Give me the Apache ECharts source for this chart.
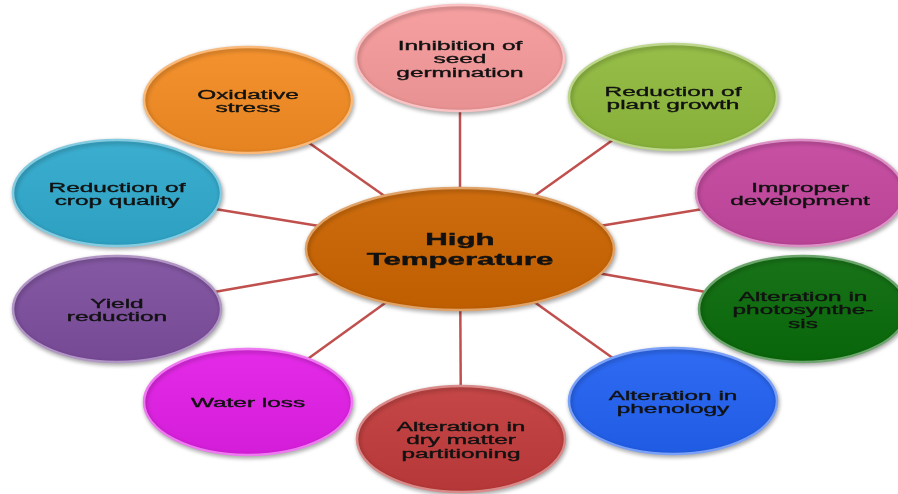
<!DOCTYPE html>
<html>
<head>
<meta charset="utf-8">
<script src="https://cdn.jsdelivr.net/npm/echarts@6/dist/echarts.min.js"></script>
<style>
html,body{margin:0;padding:0;background:#ffffff;}
#chart{width:898px;height:494px;}
</style>
</head>
<body>
<div id="chart"></div>
<script>
// ---- data ----
var centerLabel = 'High\nTemperature';
var centerColor = '#cb6400';
var centerX = 460;
var centerY = 249;

var labels = [
  'Inhibition of\nseed\ngermination',
  'Reduction of\nplant growth',
  'Improper\ndevelopment',
  'Alteration in\nphotosynthe-\nsis',
  'Alteration in\nphenology',
  'Alteration in\ndry matter\npartitioning',
  'Water loss',
  'Yield\nreduction',
  'Reduction of\ncrop quality',
  'Oxidative\nstress'
];
var colors = ['#f69a9b','#8fba3d','#c4469e','#0a6b0a','#2262f2','#c23b3b','#e21fe6','#7d4e9e','#30a9cc','#f38b22'];
var nodeX = [460, 673, 800, 803, 673, 461, 248, 117, 117, 248];
var nodeY = [58, 97, 193, 309, 401, 439, 402, 309, 193, 100];

// ---- helpers ----
function tint(hex, f) {
  var r = parseInt(hex.substr(1,2),16), g = parseInt(hex.substr(3,2),16), b = parseInt(hex.substr(5,2),16);
  r = Math.round(r + (255 - r) * f); g = Math.round(g + (255 - g) * f); b = Math.round(b + (255 - b) * f);
  return 'rgb(' + r + ',' + g + ',' + b + ')';
}
function shade(hex, f) {
  var r = parseInt(hex.substr(1,2),16), g = parseInt(hex.substr(3,2),16), b = parseInt(hex.substr(5,2),16);
  return 'rgb(' + Math.round(r*(1-f)) + ',' + Math.round(g*(1-f)) + ',' + Math.round(b*(1-f)) + ')';
}

var nodes = [{ name: centerLabel, value: [centerX, centerY], color: centerColor, center: true }];
for (var i = 0; i < labels.length; i++) {
  nodes.push({ name: labels[i], value: [nodeX[i], nodeY[i]], color: colors[i], center: false });
}
var edges = [];
for (var j = 0; j < labels.length; j++) {
  edges.push([centerX, centerY, nodeX[j], nodeY[j]]);
}

var ELLIPSE = 'M0 50A50 50 0 1 1 100 50A50 50 0 1 1 0 50Z';

var chart = echarts.init(document.getElementById('chart'), null, { renderer: 'canvas' });
chart.setOption({
  backgroundColor: '#ffffff',
  animation: false,
  grid: { left: 0, right: 0, top: 0, bottom: 0 },
  xAxis: { type: 'value', min: 0, max: 898, show: false },
  yAxis: { type: 'value', min: 0, max: 494, inverse: true, show: false },
  series: [
    {
      type: 'custom',
      z: 1,
      data: edges,
      renderItem: function (params, api) {
        var p1 = api.coord([api.value(0), api.value(1)]);
        var p2 = api.coord([api.value(2), api.value(3)]);
        return {
          type: 'line',
          shape: { x1: p1[0], y1: p1[1], x2: p2[0], y2: p2[1] },
          style: { stroke: '#c0504d', lineWidth: 2.5 }
        };
      }
    },
    {
      type: 'custom',
      z: 2,
      data: nodes.map(function (n) { return { value: n.value, name: n.name }; }),
      renderItem: function (params, api) {
        var n = nodes[params.dataIndex];
        var p = api.coord([api.value(0), api.value(1)]);
        var rx = n.center ? 154 : 104;
        var ry = n.center ? 61 : 53;
        var fill = {
          type: 'linear', x: 0, y: 0, x2: 0, y2: 1,
          colorStops: [
            { offset: 0, color: tint(n.color, 0.06) },
            { offset: 1, color: shade(n.color, 0.06) }
          ]
        };
        return {
          type: 'group',
          children: [
            {
              type: 'path',
              shape: { pathData: ELLIPSE, layout: 'cover', x: p[0] - rx, y: p[1] - ry, width: rx * 2, height: ry * 2 },
              style: {
                fill: fill,
                stroke: tint(n.color, 0.4),
                lineWidth: 2.5,
                shadowBlur: 4,
                shadowOffsetX: 1,
                shadowOffsetY: 2,
                shadowColor: 'rgba(0,0,0,0.3)'
              }
            },
            {
              type: 'text',
              x: p[0],
              y: p[1] + (n.center ? 2 : 2),
              scaleX: 1.95,
              style: {
                text: n.name,
                fill: '#111111',
                stroke: '#111111',
                lineWidth: n.center ? 0.4 : 0.35,
                font: n.center ? 'bold 16px "Liberation Sans", Arial, sans-serif' : '12.5px "Liberation Sans", Arial, sans-serif',
                lineHeight: n.center ? 20 : 13.5,
                align: 'center',
                verticalAlign: 'middle'
              }
            }
          ]
        };
      }
    }
  ]
});
</script>
</body>
</html>
